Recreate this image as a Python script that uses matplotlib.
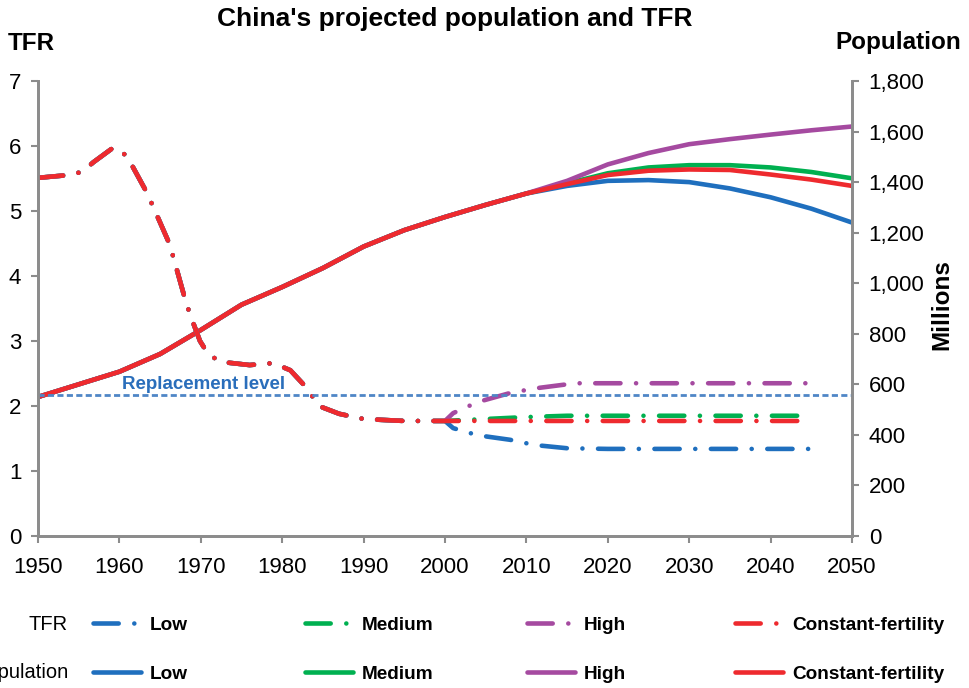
import matplotlib.pyplot as plt
import numpy as np

plt.rcParams['font.family'] = ['Liberation Sans', 'DejaVu Sans']

# 总和生育率 (TFR) - 历史部分, 各方案共用
tfr_hist_years = [1950, 1953.5, 1955.4, 1956.8, 1959.3, 1960.9, 1963.3, 1964.1, 1966.2,
                  1968.1, 1968.7, 1969.9, 1970.9, 1972.4, 1976, 1978.9, 1981, 1983,
                  1984.5, 1987, 1990, 1995, 2000]
tfr_hist = [5.51, 5.55, 5.6, 5.75, 5.98, 5.85, 5.3, 5.08, 4.48,
            3.63, 3.4, 3.0, 2.8, 2.68, 2.63, 2.66, 2.55, 2.28,
            2.0, 1.88, 1.8, 1.77, 1.77]

# 各方案预测
tfr_low_years = [2001, 2004, 2008, 2011, 2015, 2020, 2045]
tfr_low = [1.66, 1.55, 1.48, 1.40, 1.35, 1.34, 1.34]
tfr_med_years = [2005, 2010, 2015, 2045]
tfr_med = [1.80, 1.83, 1.85, 1.85]
tfr_high_years = [2001, 2004, 2008, 2011, 2016, 2045]
tfr_high = [1.89, 2.06, 2.20, 2.27, 2.35, 2.35]
tfr_const_years = [2045]
tfr_const = [1.77]

replacement = 2.17

# 人口 (百万)
pop_hist_years = [1950, 1955, 1960, 1965, 1970, 1975, 1980, 1985, 1990, 1995, 2000, 2005, 2010]
pop_hist = [550, 600, 650, 720, 815, 915, 985, 1060, 1145, 1210, 1262, 1310, 1355]
pop_proj_years = [2015, 2020, 2025, 2030, 2035, 2040, 2045, 2050]
pop_low = [1385, 1405, 1408, 1400, 1375, 1340, 1295, 1240]
pop_med = [1395, 1435, 1458, 1467, 1467, 1458, 1440, 1415]
pop_high = [1405, 1470, 1515, 1550, 1570, 1588, 1605, 1620]
pop_const = [1392, 1428, 1445, 1450, 1448, 1430, 1410, 1385]

scenarios = ['Low', 'Medium', 'High', 'Constant-fertility']
colors = ['#1f6fbe', '#00b050', '#a54aa0', '#ee2a2e']

tfr_proj = [(tfr_low_years, tfr_low), (tfr_med_years, tfr_med),
            (tfr_high_years, tfr_high), (tfr_const_years, tfr_const)]
pop_proj = [pop_low, pop_med, pop_high, pop_const]

fig = plt.figure(figsize=(9.69, 6.88), dpi=100)
ax = fig.add_axes([38 / 969, 152 / 688, 814 / 969, 455 / 688])
ax2 = ax.twinx()

lw = 3.3
dashdot = (0, (5.5, 3.4, 0.01, 3.4))

tfr_lines = []
for (yrs, vals), c, name in zip(tfr_proj, colors, scenarios):
    x = list(tfr_hist_years) + list(yrs)
    y = list(tfr_hist) + list(vals)
    ln, = ax.plot(x, y, color=c, lw=lw, linestyle=dashdot,
                  dash_capstyle='round', solid_capstyle='round', label=name)
    tfr_lines.append(ln)

pop_lines = []
for vals, c, name in zip(pop_proj, colors, scenarios):
    x = list(pop_hist_years) + list(pop_proj_years)
    y = list(pop_hist) + list(vals)
    ln, = ax2.plot(x, y, color=c, lw=lw, solid_capstyle='round',
                   solid_joinstyle='round', label=name)
    pop_lines.append(ln)

# 更替水平
ax.axhline(replacement, color='#4f86c6', lw=2, linestyle=(0, (2.2, 1.2)))
ax.text(1960.3, replacement + 0.03, 'Replacement level', color='#2a6ebb',
        fontsize=13.5, fontweight='bold', va='bottom', ha='left')

ax.set_xlim(1950, 2050)
ax.set_ylim(0, 7)
ax2.set_ylim(0, 1800)
ax.set_xticks(np.arange(1950, 2051, 10))
ax.set_yticks(range(0, 8))
ax2.set_yticks(range(0, 1801, 200))
ax2.set_yticklabels([f'{v:,}' for v in range(0, 1801, 200)])

spine_c = '#8c8c8c'
for a in (ax, ax2):
    a.spines['top'].set_visible(False)
    for s in ('left', 'right', 'bottom'):
        a.spines[s].set_color(spine_c)
        a.spines[s].set_linewidth(2)
    a.tick_params(colors=spine_c, width=1.5, length=5, labelsize=16, labelcolor='black')
ax.tick_params(axis='x', pad=10)
ax.tick_params(axis='y', pad=7)
ax2.tick_params(axis='y', pad=7)
ax.set_zorder(ax2.get_zorder() + 1)
ax.patch.set_visible(False)

fig.text(455 / 969, 1 - 19 / 688, "China's projected population and TFR",
         ha='center', va='center', fontsize=19, fontweight='bold')
fig.text(8 / 969, 1 - 43 / 688, 'TFR', ha='left', va='center',
         fontsize=17.5, fontweight='bold')
fig.text(961 / 969, 1 - 43 / 688, 'Population', ha='right', va='center',
         fontsize=17.5, fontweight='bold')
fig.text(942 / 969, 1 - 305 / 688, 'Millions', ha='center', va='center',
         rotation=90, fontsize=17.5, fontweight='bold')

# 图例: 两行, 手动定位
fig.text(68 / 969, 1 - 625 / 688, 'TFR', ha='right', va='center', fontsize=14.5)
fig.text(69 / 969, 1 - 672 / 688, 'Population', ha='right', va='center', fontsize=14.5)
col_x = [93, 305, 527, 735]
for row_y, handles in ((625, tfr_lines), (674, pop_lines)):
    for cx, h, name in zip(col_x, handles, scenarios):
        fig.legend(handles=[h], labels=[name], loc='center left',
                   bbox_to_anchor=(cx / 969, 1 - row_y / 688), frameon=False,
                   borderpad=0, borderaxespad=0, handlelength=2.5,
                   handletextpad=0.5, prop={'weight': 'bold', 'size': 13.7})

fig.savefig('out.png', dpi=100)
